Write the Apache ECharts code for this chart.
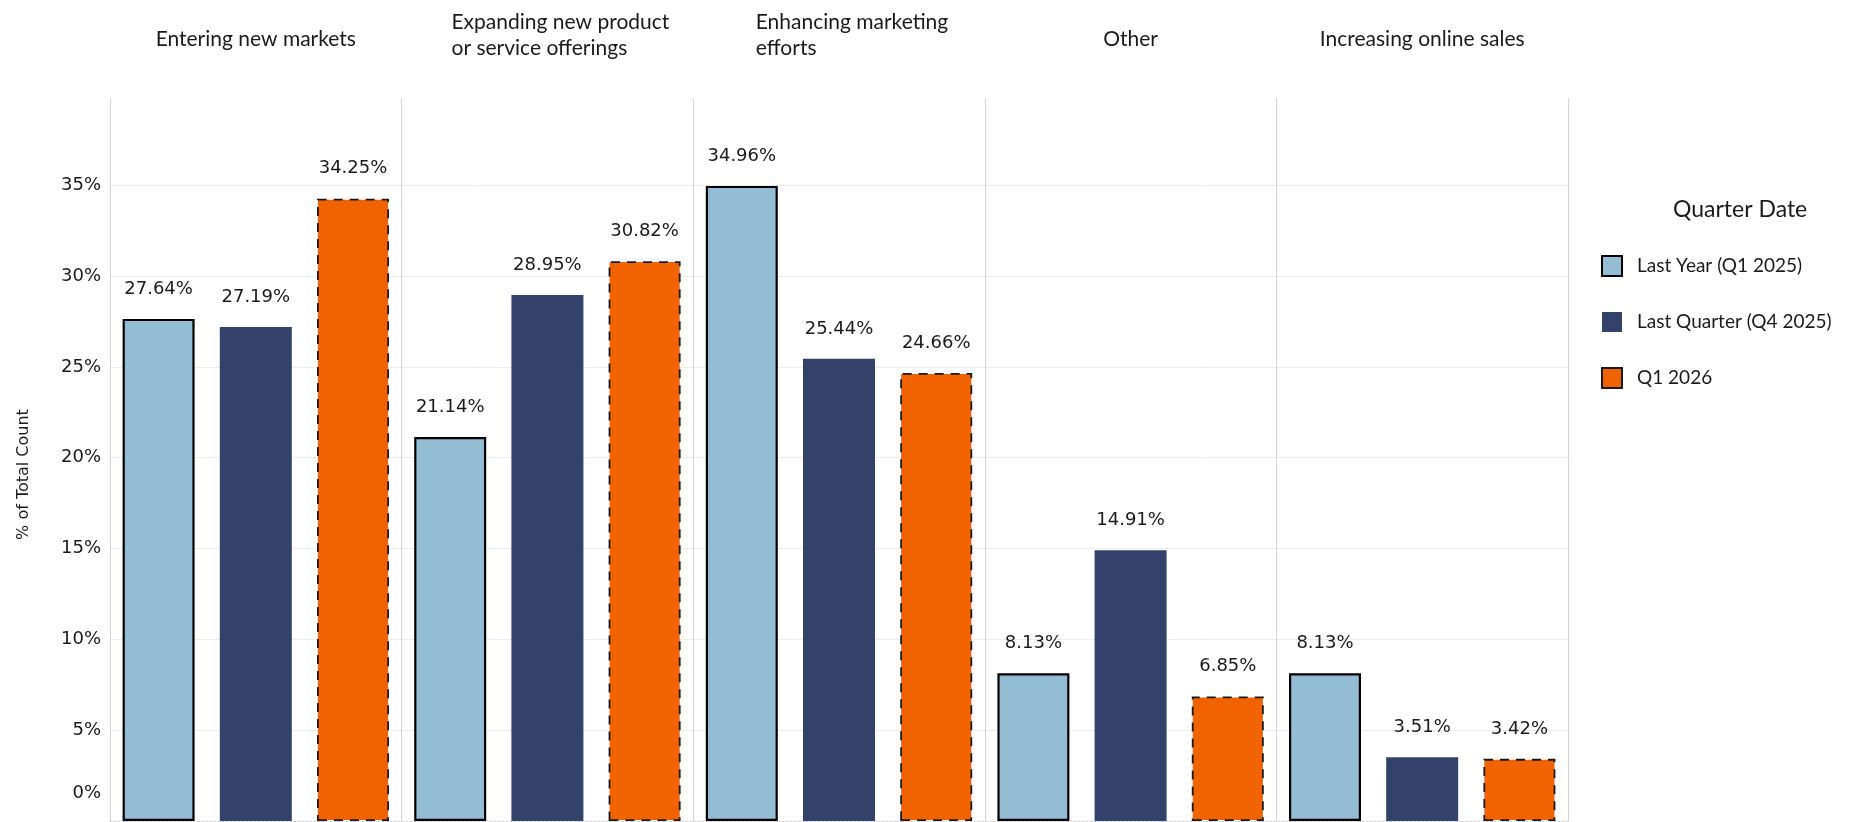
<!DOCTYPE html>
<html>
<head>
<meta charset="utf-8">
<script src="https://cdn.jsdelivr.net/npm/echarts@6/dist/echarts.min.js"></script>
<style>
  html, body { margin: 0; padding: 0; background: #ffffff; }
  #chart { width: 1852px; height: 822px; }
</style>
</head>
<body>
<div id="chart"></div>
<script>
// Business goals, share of responses per quarter
const categories = [
  'Entering new markets',
  'Expanding new product\nor service offerings',
  'Enhancing marketing\nefforts',
  'Other',
  'Increasing online sales'
];
const seriesNames = ['Last Year (Q1 2025)', 'Last Quarter (Q4 2025)', 'Q1 2026'];
const lastYear = [27.64, 21.14, 34.96, 8.13, 8.13];
const lastQuarter = [27.19, 28.95, 25.44, 14.91, 3.51];
const currentQuarter = [34.25, 30.82, 24.66, 6.85, 3.42];
const yTicks = [0, 5, 10, 15, 20, 25, 30, 35];

const colors = ['#93bdd5', '#32426a', '#f06300'];
const labelFont = 'DejaVu Sans';
const titleFont = 'Lato';
const titleSize = 21;

const chart = echarts.init(document.getElementById('chart'), null, { renderer: 'canvas' });

function barLabel() {
  return {
    show: true,
    position: 'top',
    distance: 21,
    fontFamily: labelFont,
    fontSize: 18,
    color: '#1a1a1a',
    formatter: p => p.value.toFixed(2) + '%'
  };
}

const option = {
  backgroundColor: '#ffffff',
  animation: false,
  title: {
    text: 'Quarter Date',
    left: 1668,
    top: 193,
    textStyle: { fontFamily: titleFont, fontSize: 23, fontWeight: 'normal', color: '#1a1a1a' }
  },
  legend: {
    orient: 'vertical',
    left: 1596,
    top: 250,
    icon: 'rect',
    itemWidth: 20,
    itemHeight: 20,
    itemGap: 35,
    data: seriesNames,
    textStyle: { fontFamily: titleFont, fontSize: 19, color: '#1a1a1a', padding: [0, 0, 0, 10] }
  },
  grid: { left: 110, right: 284, top: 98, bottom: 1, containLabel: false },
  xAxis: [
    {
      type: 'category',
      position: 'top',
      data: categories,
      axisLine: { show: false },
      axisTick: { show: false },
      splitLine: { show: true, interval: 0, lineStyle: { color: '#d4d4d4', width: 1 } },
      axisLabel: {
        interval: 0,
        margin: 59,
        verticalAlign: 'middle',
        fontFamily: titleFont,
        fontSize: titleSize,
        color: '#1a1a1a',
        formatter: v => {
          const lines = v.split('\n');
          if (lines.length === 1) return v;
          return lines.map((l, i) =>
            '{' + (i === lines.length - 1 ? 'wl' : 'w') + '|' + l + '}').join('\n');
        },
        rich: {
          w: { align: 'left', fontFamily: titleFont, fontSize: titleSize, color: '#1a1a1a', lineHeight: 33, padding: [0, 0, 0, 26] },
          wl: { align: 'left', fontFamily: titleFont, fontSize: titleSize, color: '#1a1a1a', lineHeight: 33, padding: [0, 0, 14, 26] }
        }
      }
    },
    {
      type: 'category',
      position: 'bottom',
      data: categories,
      axisLine: { show: true, lineStyle: { color: '#cfcfcf', type: [2, 2], width: 1 } },
      axisTick: { show: false },
      axisLabel: { show: false }
    }
  ],
  yAxis: {
    type: 'value',
    min: yTicks[0],
    max: 39.8,
    interval: yTicks[1] - yTicks[0],
    name: '% of Total Count',
    nameLocation: 'middle',
    nameGap: 78,
    nameTextStyle: { fontFamily: labelFont, fontSize: 16, color: '#1a1a1a', padding: [0, 30, 0, 0] },
    axisLine: { show: true, lineStyle: { color: '#d4d4d4', width: 1 } },
    axisTick: { show: false },
    splitLine: { show: true, showMaxLine: false, showMinLine: false, lineStyle: { color: '#ececec', width: 1 } },
    axisLabel: {
      margin: 9,
      showMaxLabel: false,
      fontFamily: labelFont,
      fontSize: 18,
      color: '#1a1a1a',
      formatter: v => {
        if (yTicks.indexOf(v) < 0) return '';
        return v === 0 ? '{z|0%}' : v + '%';
      },
      rich: {
        z: { fontFamily: labelFont, fontSize: 18, color: '#1a1a1a', padding: [0, 0, 56, 0] }
      }
    }
  },
  series: [
    {
      name: seriesNames[0],
      type: 'bar',
      barWidth: 72,
      barGap: '35%',
      data: lastYear,
      itemStyle: { color: colors[0], borderColor: '#000000', borderWidth: 2.2 },
      label: barLabel()
    },
    {
      name: seriesNames[1],
      type: 'bar',
      barWidth: 72,
      barGap: '35%',
      data: lastQuarter,
      itemStyle: { color: colors[1], borderWidth: 0 },
      label: barLabel()
    },
    {
      name: seriesNames[2],
      type: 'bar',
      barWidth: 72,
      barGap: '35%',
      data: currentQuarter,
      itemStyle: { color: colors[2], borderColor: '#1a1a1a', borderWidth: 1.8, borderType: [9, 7] },
      label: barLabel()
    }
  ]
};

chart.setOption(option);
</script>
</body>
</html>
